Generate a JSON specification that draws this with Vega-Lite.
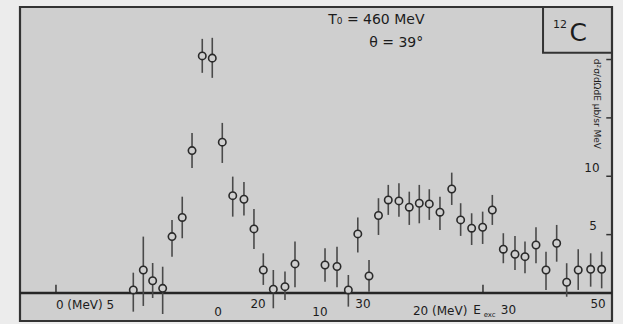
{
  "$schema": "https://vega.github.io/schema/vega-lite/v6.json",
  "width": 592,
  "height": 314,
  "padding": {"left": 20, "top": 7, "right": 11, "bottom": 3},
  "autosize": {"type": "none"},
  "background": "#ececec",
  "config": {
    "view": {"fill": "#cfcfcf", "stroke": null},
    "text": {"font": "DejaVu Sans", "color": "#1c1c1c"}
  },
  "datasets": {
    "spectrum": [
      {"E": 8.30, "v": 0.26, "lo": -1.60, "hi": 1.74},
      {"E": 9.21, "v": 1.97, "lo": -1.11, "hi": 4.83},
      {"E": 10.06, "v": 1.05, "lo": -0.43, "hi": 2.57},
      {"E": 10.97, "v": 0.40, "lo": -1.80, "hi": 2.25},
      {"E": 11.82, "v": 4.83, "lo": 3.11, "hi": 6.26},
      {"E": 12.75, "v": 6.47, "lo": 4.69, "hi": 8.25},
      {"E": 13.64, "v": 12.20, "lo": 10.71, "hi": 13.71},
      {"E": 14.57, "v": 20.31, "lo": 18.86, "hi": 21.77},
      {"E": 15.48, "v": 20.12, "lo": 18.43, "hi": 21.86},
      {"E": 16.39, "v": 12.92, "lo": 11.14, "hi": 14.57},
      {"E": 17.34, "v": 8.34, "lo": 6.54, "hi": 9.97},
      {"E": 18.36, "v": 8.03, "lo": 6.63, "hi": 9.51},
      {"E": 19.27, "v": 5.49, "lo": 3.77, "hi": 7.20},
      {"E": 20.12, "v": 1.97, "lo": 0.69, "hi": 3.40},
      {"E": 21.03, "v": 0.32, "lo": -1.31, "hi": 1.97},
      {"E": 22.09, "v": 0.54, "lo": -0.60, "hi": 1.83},
      {"E": 23.00, "v": 2.49, "lo": 0.49, "hi": 4.40},
      {"E": 25.73, "v": 2.40, "lo": 0.97, "hi": 3.83},
      {"E": 26.82, "v": 2.27, "lo": 0.49, "hi": 3.97},
      {"E": 27.85, "v": 0.26, "lo": -1.17, "hi": 1.54},
      {"E": 28.71, "v": 5.06, "lo": 3.47, "hi": 6.47},
      {"E": 29.73, "v": 1.46, "lo": 0.11, "hi": 2.83},
      {"E": 30.59, "v": 6.64, "lo": 4.97, "hi": 8.12},
      {"E": 31.48, "v": 7.97, "lo": 6.69, "hi": 9.26},
      {"E": 32.45, "v": 7.89, "lo": 6.54, "hi": 9.40},
      {"E": 33.39, "v": 7.35, "lo": 5.83, "hi": 8.68},
      {"E": 34.30, "v": 7.69, "lo": 5.97, "hi": 9.26},
      {"E": 35.21, "v": 7.63, "lo": 6.26, "hi": 8.89},
      {"E": 36.18, "v": 6.92, "lo": 5.40, "hi": 8.25},
      {"E": 37.25, "v": 8.91, "lo": 7.54, "hi": 10.31},
      {"E": 38.06, "v": 6.26, "lo": 4.89, "hi": 7.69},
      {"E": 39.06, "v": 5.55, "lo": 4.11, "hi": 6.83},
      {"E": 40.06, "v": 5.63, "lo": 4.20, "hi": 6.97},
      {"E": 40.94, "v": 7.11, "lo": 5.83, "hi": 8.40},
      {"E": 41.94, "v": 3.75, "lo": 2.55, "hi": 5.12},
      {"E": 43.00, "v": 3.32, "lo": 1.97, "hi": 4.89},
      {"E": 43.91, "v": 3.11, "lo": 1.69, "hi": 4.40},
      {"E": 44.91, "v": 4.11, "lo": 2.55, "hi": 5.63},
      {"E": 45.82, "v": 1.97, "lo": 0.26, "hi": 3.54},
      {"E": 46.79, "v": 4.26, "lo": 2.68, "hi": 5.83},
      {"E": 47.70, "v": 0.92, "lo": -0.32, "hi": 2.55},
      {"E": 48.75, "v": 1.97, "lo": 0.26, "hi": 3.75},
      {"E": 49.88, "v": 2.03, "lo": 0.54, "hi": 3.40},
      {"E": 50.88, "v": 2.03, "lo": 0.40, "hi": 3.54}
    ],
    "scaleLabels": [
      {"E": 3.91, "v": -1.03, "text": "0 (MeV) 5"},
      {"E": 16.0, "v": -1.63, "text": "0"},
      {"E": 19.64, "v": -0.94, "text": "20"},
      {"E": 25.27, "v": -1.63, "text": "10"},
      {"E": 29.18, "v": -0.94, "text": "30"},
      {"E": 36.2, "v": -1.54, "text": "20 (MeV)"},
      {"E": 39.55, "v": -1.46, "text": "E"},
      {"E": 42.4, "v": -1.46, "text": "30"},
      {"E": 50.55, "v": -0.94, "text": "50"}
    ],
    "subscripts": [
      {"E": 40.7, "v": -1.85, "text": "exc"}
    ],
    "xTicks": [{"E": 1.27}, {"E": 40.09}],
    "yTicks": [{"v": 5}, {"v": 10}, {"v": 15}, {"v": 20}],
    "yLabels": [
      {"E": 50.1, "v": 5.7, "text": "5"},
      {"E": 50.0, "v": 10.7, "text": "10"}
    ],
    "notes": [
      {"E": 30.4, "v": 23.35, "text": "T₀ = 460 MeV"},
      {"E": 32.2, "v": 21.4, "text": "θ = 39°"}
    ]
  },
  "layer": [
    {
      "data": {"values": [{}]},
      "mark": {"type": "rect", "fillOpacity": 0, "stroke": "#333", "strokeWidth": 2.2},
      "encoding": {
        "x": {"datum": -2, "type": "quantitative", "scale": {"domain": [-2, 51.82], "nice": false, "zero": false}, "axis": null},
        "x2": {"datum": 51.82},
        "y": {"datum": -2.4, "type": "quantitative", "scale": {"domain": [-2.4, 24.5], "nice": false, "zero": false}, "axis": null},
        "y2": {"datum": 24.5}
      }
    },
    {
      "data": {"name": "xTicks"},
      "mark": {"type": "rule", "stroke": "#333", "strokeWidth": 1.5},
      "encoding": {
        "x": {"field": "E", "type": "quantitative", "scale": {"domain": [-2, 51.82], "nice": false, "zero": false}, "axis": null},
        "y": {"datum": 0, "type": "quantitative", "scale": {"domain": [-2.4, 24.5], "nice": false, "zero": false}, "axis": null},
        "y2": {"datum": 0.7}
      }
    },
    {
      "data": {"name": "yTicks"},
      "mark": {"type": "rule", "stroke": "#333", "strokeWidth": 1.5},
      "encoding": {
        "x": {"datum": 51.3, "type": "quantitative", "scale": {"domain": [-2, 51.82], "nice": false, "zero": false}, "axis": null},
        "x2": {"datum": 51.82},
        "y": {"field": "v", "type": "quantitative", "scale": {"domain": [-2.4, 24.5], "nice": false, "zero": false}, "axis": null}
      }
    },
    {
      "data": {"values": [{}]},
      "mark": {"type": "rule", "stroke": "#262626", "strokeWidth": 2.5},
      "encoding": {
        "x": {"datum": -2, "type": "quantitative", "scale": {"domain": [-2, 51.82], "nice": false, "zero": false}, "axis": null},
        "x2": {"datum": 51.82},
        "y": {"datum": 0, "type": "quantitative", "scale": {"domain": [-2.4, 24.5], "nice": false, "zero": false}, "axis": null}
      }
    },
    {
      "data": {"values": [{}]},
      "mark": {"type": "rect", "fillOpacity": 0, "stroke": "#333", "strokeWidth": 2},
      "encoding": {
        "x": {"datum": 45.55, "type": "quantitative", "scale": {"domain": [-2, 51.82], "nice": false, "zero": false}, "axis": null},
        "x2": {"datum": 51.82},
        "y": {"datum": 20.57, "type": "quantitative", "scale": {"domain": [-2.4, 24.5], "nice": false, "zero": false}, "axis": null},
        "y2": {"datum": 24.5}
      }
    },
    {
      "data": {"name": "spectrum"},
      "mark": {"type": "rule", "stroke": "#4a4a4a", "strokeWidth": 1.6},
      "encoding": {
        "x": {"field": "E", "type": "quantitative", "scale": {"domain": [-2, 51.82], "nice": false, "zero": false}, "axis": null},
        "y": {"field": "lo", "type": "quantitative", "scale": {"domain": [-2.4, 24.5], "nice": false, "zero": false}, "axis": null},
        "y2": {"field": "hi"}
      }
    },
    {
      "data": {"name": "spectrum"},
      "mark": {"type": "point", "shape": "circle", "size": 55, "filled": true, "fill": "#cfcfcf", "stroke": "#2a2a2a", "strokeWidth": 1.6, "opacity": 1},
      "encoding": {
        "x": {"field": "E", "type": "quantitative", "scale": {"domain": [-2, 51.82], "nice": false, "zero": false}, "axis": null},
        "y": {"field": "v", "type": "quantitative", "scale": {"domain": [-2.4, 24.5], "nice": false, "zero": false}, "axis": null}
      }
    },
    {
      "data": {"name": "scaleLabels"},
      "mark": {"type": "text", "fontSize": 12, "align": "center", "baseline": "middle"},
      "encoding": {
        "x": {"field": "E", "type": "quantitative", "scale": {"domain": [-2, 51.82], "nice": false, "zero": false}, "axis": null},
        "y": {"field": "v", "type": "quantitative", "scale": {"domain": [-2.4, 24.5], "nice": false, "zero": false}, "axis": null},
        "text": {"field": "text"}
      }
    },
    {
      "data": {"name": "subscripts"},
      "mark": {"type": "text", "fontSize": 7, "align": "center", "baseline": "middle"},
      "encoding": {
        "x": {"field": "E", "type": "quantitative", "scale": {"domain": [-2, 51.82], "nice": false, "zero": false}, "axis": null},
        "y": {"field": "v", "type": "quantitative", "scale": {"domain": [-2.4, 24.5], "nice": false, "zero": false}, "axis": null},
        "text": {"field": "text"}
      }
    },
    {
      "data": {"name": "yLabels"},
      "mark": {"type": "text", "fontSize": 12, "align": "center", "baseline": "middle"},
      "encoding": {
        "x": {"field": "E", "type": "quantitative", "scale": {"domain": [-2, 51.82], "nice": false, "zero": false}, "axis": null},
        "y": {"field": "v", "type": "quantitative", "scale": {"domain": [-2.4, 24.5], "nice": false, "zero": false}, "axis": null},
        "text": {"field": "text"}
      }
    },
    {
      "data": {"name": "notes"},
      "mark": {"type": "text", "fontSize": 14, "align": "center", "baseline": "middle"},
      "encoding": {
        "x": {"field": "E", "type": "quantitative", "scale": {"domain": [-2, 51.82], "nice": false, "zero": false}, "axis": null},
        "y": {"field": "v", "type": "quantitative", "scale": {"domain": [-2.4, 24.5], "nice": false, "zero": false}, "axis": null},
        "text": {"field": "text"}
      }
    },
    {
      "data": {"values": [{"E": 50.45, "v": 16.2, "text": "d²σ/dΩdE  μb/sr MeV"}]},
      "mark": {"type": "text", "fontSize": 9, "angle": 90, "align": "center", "baseline": "middle"},
      "encoding": {
        "x": {"field": "E", "type": "quantitative", "scale": {"domain": [-2, 51.82], "nice": false, "zero": false}, "axis": null},
        "y": {"field": "v", "type": "quantitative", "scale": {"domain": [-2.4, 24.5], "nice": false, "zero": false}, "axis": null},
        "text": {"field": "text"}
      }
    },
    {
      "data": {"values": [{"E": 47.1, "v": 23.0, "text": "12"}]},
      "mark": {"type": "text", "fontSize": 11, "align": "center", "baseline": "middle"},
      "encoding": {
        "x": {"field": "E", "type": "quantitative", "scale": {"domain": [-2, 51.82], "nice": false, "zero": false}, "axis": null},
        "y": {"field": "v", "type": "quantitative", "scale": {"domain": [-2.4, 24.5], "nice": false, "zero": false}, "axis": null},
        "text": {"field": "text"}
      }
    },
    {
      "data": {"values": [{"E": 48.75, "v": 22.3, "text": "C"}]},
      "mark": {"type": "text", "fontSize": 25, "align": "center", "baseline": "middle"},
      "encoding": {
        "x": {"field": "E", "type": "quantitative", "scale": {"domain": [-2, 51.82], "nice": false, "zero": false}, "axis": null},
        "y": {"field": "v", "type": "quantitative", "scale": {"domain": [-2.4, 24.5], "nice": false, "zero": false}, "axis": null},
        "text": {"field": "text"}
      }
    }
  ]
}
